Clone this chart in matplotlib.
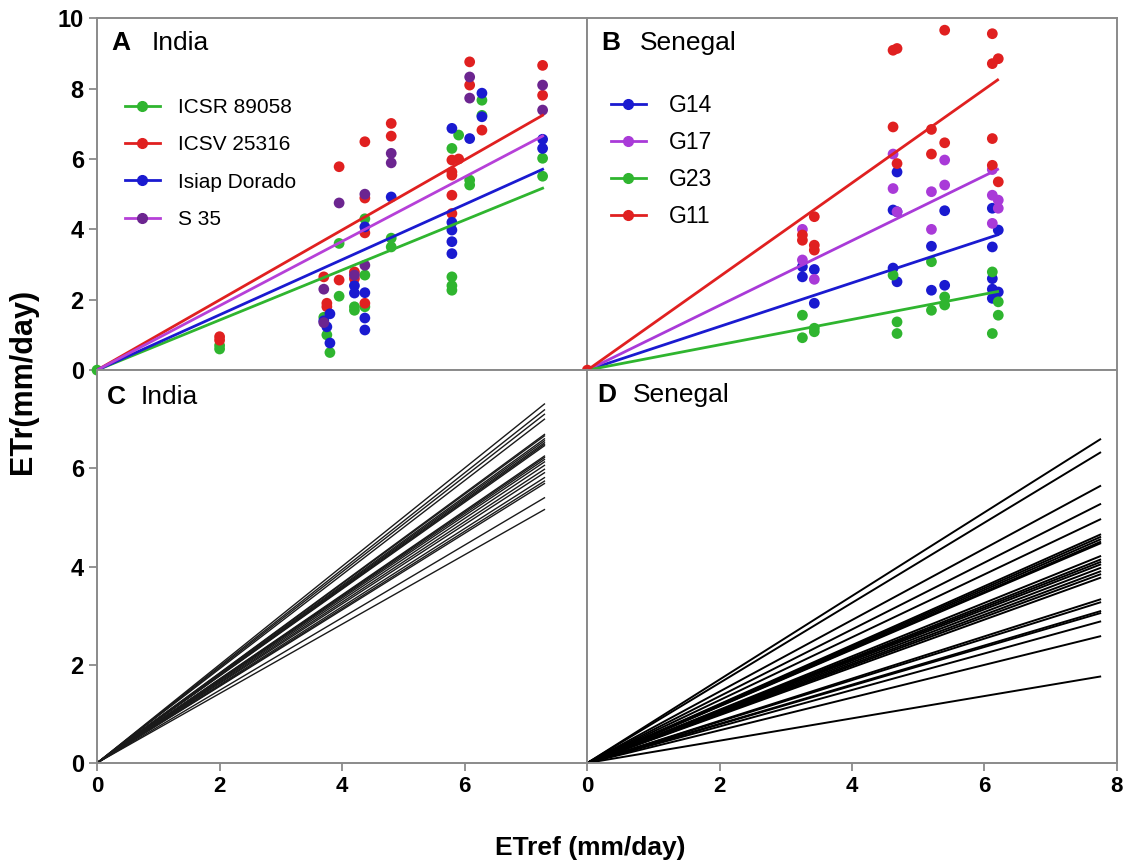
import matplotlib
matplotlib.use("Agg")
import matplotlib.pyplot as plt
from matplotlib.lines import Line2D

plt.rcParams['font.family'] = ['Liberation Sans', 'DejaVu Sans']

# ---- panel A: India, ETref vs ETr per genotype ----
india_names = ["ICSR 89058", "ICSV 25316", "Isiap Dorado", "S 35"]
india_x = {
    "ICSR 89058": [0, 2.0, 2.0, 3.7, 3.75, 3.8, 3.95, 3.95, 4.2, 4.2, 4.37, 4.37, 4.37, 4.8, 4.8,
                   5.79, 5.79, 5.79, 5.79, 5.9, 6.08, 6.08, 6.28, 6.28, 7.27, 7.27],
    "ICSV 25316": [2.0, 2.0, 3.7, 3.75, 3.75, 3.95, 3.95, 4.2, 4.2, 4.37, 4.37, 4.37, 4.37, 4.8, 4.8,
                   5.79, 5.79, 5.79, 5.79, 5.79, 5.9, 6.08, 6.08, 6.28, 7.27, 7.27],
    "Isiap Dorado": [3.7, 3.75, 3.8, 3.8, 4.2, 4.2, 4.37, 4.37, 4.37, 4.37, 4.8, 5.79, 5.79, 5.79,
                     5.79, 5.79, 6.08, 6.28, 6.28, 7.27, 7.27],
    "S 35": [3.7, 3.7, 3.95, 4.2, 4.37, 4.37, 4.8, 4.8, 6.08, 6.08, 7.27, 7.27],
}
india_y = {
    "ICSR 89058": [0, 0.7, 0.6, 1.5, 1.0, 0.5, 3.6, 2.1, 1.7, 1.8, 4.3, 2.7, 1.8, 3.75, 3.5,
                   2.65, 2.4, 2.27, 6.3, 6.68, 5.4, 5.26, 7.67, 7.24, 6.02, 5.51],
    "ICSV 25316": [0.95, 0.85, 2.65, 1.9, 1.8, 5.78, 2.56, 2.79, 2.6, 6.49, 4.89, 3.9, 1.9, 7.01, 6.65,
                   5.97, 5.63, 5.54, 4.97, 4.45, 6.0, 8.76, 8.1, 6.82, 8.66, 7.81],
    "Isiap Dorado": [1.4, 1.23, 0.77, 1.6, 2.19, 2.4, 4.07, 1.48, 1.14, 2.2, 4.92, 6.87, 3.98, 3.65,
                     3.31, 4.2, 6.58, 7.87, 7.2, 6.56, 6.3],
    "S 35": [2.3, 1.35, 4.75, 2.7, 5.0, 2.98, 6.16, 5.89, 8.33, 7.73, 8.1, 7.39],
}
india_slope = {"ICSR 89058": 0.711, "ICSV 25316": 0.996, "Isiap Dorado": 0.785, "S 35": 0.915}
india_xmax = 7.27

# ---- panel B: Senegal ----
sen_names = ["G14", "G17", "G23", "G11"]
sen_x = {
    "G14": [3.25, 3.25, 3.43, 3.43, 4.62, 4.68, 4.68, 4.68, 4.62, 5.2, 5.2, 5.4, 5.4,
            6.12, 6.12, 6.12, 6.12, 6.21, 6.21, 6.12],
    "G17": [3.25, 3.25, 3.43, 4.62, 4.62, 4.68, 5.2, 5.2, 5.4, 5.4, 6.12, 6.12, 6.21, 6.21, 6.12],
    "G23": [3.25, 3.25, 3.43, 3.43, 4.62, 4.68, 4.68, 5.2, 5.2, 5.4, 5.4, 6.12, 6.12, 6.21, 6.21],
    "G11": [0, 3.25, 3.25, 3.43, 3.43, 3.43, 4.62, 4.68, 4.62, 4.68, 5.2, 5.2, 5.4, 5.4,
            6.12, 6.12, 6.12, 6.12, 6.21, 6.21],
}
sen_y = {
    "G14": [2.94, 2.65, 2.86, 1.9, 4.55, 5.63, 4.5, 2.51, 2.9, 3.52, 2.27, 4.53, 2.41,
            4.6, 3.5, 2.6, 2.04, 3.98, 2.22, 2.3],
    "G17": [4.0, 3.13, 2.58, 6.14, 5.16, 4.5, 5.07, 4.0, 5.97, 5.26, 4.97, 4.17, 4.83, 4.6, 5.7],
    "G23": [1.56, 0.92, 1.19, 1.09, 2.7, 1.37, 1.04, 3.08, 1.7, 2.08, 1.85, 2.79, 1.04, 1.94, 1.56],
    "G11": [0, 3.84, 3.69, 4.36, 3.55, 3.41, 9.09, 9.14, 6.91, 5.87, 6.84, 6.14, 9.66, 6.46,
            9.56, 8.71, 6.58, 5.82, 8.85, 5.35],
}
sen_slope = {"G14": 0.62, "G17": 0.92, "G23": 0.36, "G11": 1.33}
sen_xmax = 6.2

# ---- panels C / D: fitted lines for all genotypes (ETr at line end) ----
india_all_xmax = 7.3
india_all_end = [7.31, 7.19, 7.1, 7.0, 6.69, 6.66, 6.6, 6.56, 6.52, 6.49, 6.46, 6.25, 6.22,
                 6.18, 6.13, 6.06, 5.98, 5.91, 5.81, 5.74, 5.69, 5.4, 5.16]
sen_all_xmax = 7.75
sen_all_end = [6.59, 6.32, 5.64, 5.27, 4.96, 4.65, 4.6, 4.55, 4.5, 4.47, 4.21, 4.14, 4.09,
               4.04, 3.97, 3.9, 3.84, 3.77, 3.33, 3.27, 3.09, 3.05, 2.88, 2.58, 1.76]

line_col = {"ICSR 89058": "#2fb52f", "ICSV 25316": "#e02020", "Isiap Dorado": "#1a1ad0",
            "S 35": "#b640d8", "G14": "#1a1ad0", "G17": "#a93ad8", "G23": "#2fb52f", "G11": "#e02020"}
dot_col = dict(line_col)
dot_col["S 35"] = "#6c2590"

fig = plt.figure(figsize=(11.28, 8.68), dpi=100)
gs = fig.add_gridspec(2, 2, width_ratios=[490, 529], height_ratios=[352, 393],
                      left=0.086, right=0.990, top=0.979, bottom=0.121,
                      wspace=0, hspace=0)
axA = fig.add_subplot(gs[0, 0])
axB = fig.add_subplot(gs[0, 1])
axC = fig.add_subplot(gs[1, 0])
axD = fig.add_subplot(gs[1, 1])

spine_col = "#8a8a8a"
for ax in (axA, axB, axC, axD):
    ax.set_xlim(0, 8)
    for s in ax.spines.values():
        s.set_color(spine_col)
        s.set_linewidth(1.4)
    ax.tick_params(direction='out', length=6, width=1.3, color=spine_col)

axA.set_ylim(0, 10)
axB.set_ylim(0, 10)
axC.set_ylim(0, 8)
axD.set_ylim(0, 8)

# panel A
for name in india_names:
    axA.scatter(india_x[name], india_y[name], s=60, color=dot_col[name],
                edgecolors='none', zorder=3, clip_on=False)
for name in india_names:
    axA.plot([0, india_xmax], [0, india_slope[name] * india_xmax],
             color=line_col[name], lw=2, zorder=4)
axA.set_yticks([0, 2, 4, 6, 8, 10])
axA.set_yticklabels(["0", "2", "4", "6", "8", "10"], fontweight='bold', fontsize=17)
axA.set_xticks([])
handles = [Line2D([], [], color=line_col[n], lw=2, marker='o', markersize=7,
                  markerfacecolor=dot_col[n], markeredgecolor=dot_col[n]) for n in india_names]
axA.legend(handles, india_names, loc='upper left', bbox_to_anchor=(0.018, 0.827),
           frameon=False, fontsize=15, handlelength=1.7, labelspacing=0.88,
           handletextpad=0.87)
axA.text(0.03, 0.93, "A", transform=axA.transAxes, fontsize=19, fontweight='bold',
         va='center', ha='left')
axA.text(0.112, 0.93, "India", transform=axA.transAxes, fontsize=19, va='center', ha='left')

# panel B
for name in sen_names:
    axB.scatter(sen_x[name], sen_y[name], s=60, color=dot_col[name],
                edgecolors='none', zorder=3, clip_on=False)
for name in sen_names:
    axB.plot([0, sen_xmax], [0, sen_slope[name] * sen_xmax],
             color=line_col[name], lw=2, zorder=4)
axB.set_xticks([])
axB.set_yticks([])
handles = [Line2D([], [], color=line_col[n], lw=2, marker='o', markersize=7) for n in sen_names]
axB.legend(handles, sen_names, loc='upper left', bbox_to_anchor=(0.005, 0.844),
           frameon=False, fontsize=16.5, handlelength=1.53, labelspacing=0.62,
           handletextpad=1.0)
axB.text(0.027, 0.93, "B", transform=axB.transAxes, fontsize=19, fontweight='bold',
         va='center', ha='left')
axB.text(0.1, 0.93, "Senegal", transform=axB.transAxes, fontsize=19, va='center', ha='left')

# panel C
for yend in india_all_end:
    axC.plot([0, india_all_xmax], [0, yend], color='#1a1a1a', lw=1.0)
axC.set_xticks([0, 2, 4, 6])
axC.set_yticks([0, 2, 4, 6])
axC.set_xticklabels(["0", "2", "4", "6"], fontweight='bold', fontsize=16)
axC.set_yticklabels(["0", "2", "4", "6"], fontweight='bold', fontsize=17)
axC.text(0.02, 0.931, "C", transform=axC.transAxes, fontsize=19, fontweight='bold',
         va='center', ha='left')
axC.text(0.088, 0.931, "India", transform=axC.transAxes, fontsize=19, va='center', ha='left')

# panel D
for yend in sen_all_end:
    axD.plot([0, sen_all_xmax], [0, yend], color='black', lw=1.4)
axD.set_xticks([0, 2, 4, 6, 8])
axD.set_xticklabels(["0", "2", "4", "6", "8"], fontweight='bold', fontsize=16)
axD.set_yticks([])
axD.text(0.019, 0.936, "D", transform=axD.transAxes, fontsize=19, fontweight='bold',
         va='center', ha='left')
axD.text(0.085, 0.936, "Senegal", transform=axD.transAxes, fontsize=19, va='center', ha='left')

fig.text(0.02, 0.561, "ETr(mm/day)", rotation=90, fontsize=22, fontweight='bold',
         va='center', ha='center')
fig.text(0.523, 0.023, "ETref (mm/day)", fontsize=19, fontweight='bold',
         va='center', ha='center')

fig.savefig("out.png", dpi=100)
